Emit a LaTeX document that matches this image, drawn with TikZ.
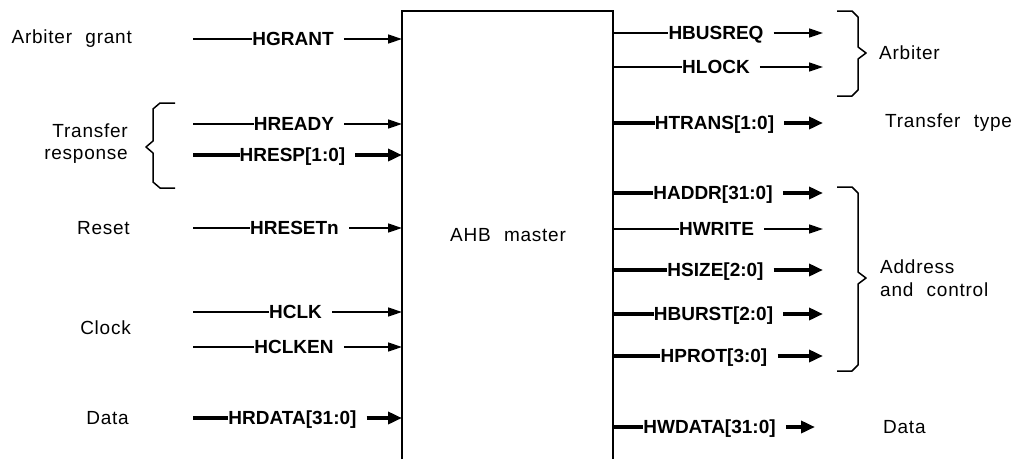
\documentclass[tikz,border=0pt]{standalone}
\usepackage{fontspec}
\setmainfont{Liberation Sans}
\newfontfamily\labfont[LetterSpace=4,WordSpace=2.2]{Liberation Sans}
\newfontfamily\sigfont{Liberation Sans Bold}
\usetikzlibrary{arrows.meta}
\begin{document}
\begin{tikzpicture}[x=1pt,y=-1pt,
  wire/.style={line width=1.5pt},
  bus/.style={line width=3.5pt},
  arrwire/.style={-{Triangle[length=14pt,width=9pt]}},
  arrbus/.style={-{Triangle[length=14pt,width=12pt]}},
  sig/.style={inner sep=0pt, font=\sigfont\fontsize{19}{19}\selectfont, text height=13.6pt, text depth=0pt},
  txt/.style={inner sep=0pt, font=\labfont\fontsize{19}{22.5}\selectfont},
  brace/.style={line width=1.5pt, line join=round},
  boxline/.style={line width=2pt}]
\useasboundingbox (0,0) rectangle (1018,459);

% master block (open at the bottom)
\coordinate (bl) at (402,459);
\coordinate (tl) at (402,11);
\coordinate (tr) at (613,11);
\coordinate (br) at (613,459);
\draw[boxline] (bl) -- (tl) -- (tr) -- (br);
\node[txt] (master) at (508,235) {AHB master};

% inputs
\foreach \y/\n/\t/\cx/\st in {
  39/hgrant/{HGRANT}/293/wire,
  124/hready/{HREADY}/294/wire,
  155/hresp/{HRESP[1:0]}/292.5/bus,
  228/hresetn/{HRESETn}/294.5/wire,
  312/hclk/{HCLK}/295.5/wire,
  347/hclken/{HCLKEN}/294/wire,
  418/hrdata/{HRDATA[31:0]}/292.5/bus}{
  \coordinate (\n-s) at (193,\y);
  \coordinate (\n-e) at (402,\y);
  \node[sig] (\n) at (\cx,\y) {\t};
  \draw[\st] (\n-s) -- (\n.west);
  \draw[\st,arr\st] ([xshift=10pt]\n.east) -- (\n-e);
}

% outputs
\foreach \y/\n/\t/\cx/\st/\tip in {
  33/hbusreq/{HBUSREQ}/716/wire/823,
  67/hlock/{HLOCK}/716/wire/823,
  123/htrans/{HTRANS[1:0]}/714.5/bus/823,
  193/haddr/{HADDR[31:0]}/713/bus/823,
  229/hwrite/{HWRITE}/716.5/wire/823,
  270/hsize/{HSIZE[2:0]}/715.5/bus/823,
  314/hburst/{HBURST[2:0]}/713.5/bus/823,
  356/hprot/{HPROT[3:0]}/714/bus/823,
  427/hwdata/{HWDATA[31:0]}/709.5/bus/815}{
  \coordinate (\n-s) at (613,\y);
  \coordinate (\n-e) at (\tip,\y);
  \node[sig] (\n) at (\cx,\y) {\t};
  \draw[\st] (\n-s) -- (\n.west);
  \draw[\st,arr\st] ([xshift=10pt]\n.east) -- (\n-e);
}

% left group labels
\node[txt,anchor=east] (arbgrant) at (132,39) {Arbiter grant};
\node[txt,anchor=east,align=right] (xferresp) at (128,143.5) {Transfer\\response};
\node[txt,anchor=east] (reset) at (130,228) {Reset};
\node[txt,anchor=east] (clock) at (131,328) {Clock};
\node[txt,anchor=east] (rdata) at (129,418) {Data};

% right group labels
\node[txt,anchor=west] (arbiter) at (879,53) {Arbiter};
\node[txt,anchor=west] (xfertype) at (885,123) {Transfer type};
\node[txt,anchor=west,align=left] (addrctl) at (880,278) {Address\\and control};
\node[txt,anchor=west] (wdata) at (883,427) {Data};

% braces
\draw[brace] (175,103) -- (160,103) -- (153,109) -- (153,141) -- (146,147)
  -- (153,153) -- (153,182) -- (160,188) -- (175,188);
\draw[brace] (837,11) -- (852,11) -- (858,17) -- (858,47) -- (866,53)
  -- (858,59) -- (858,90) -- (852,96) -- (837,96);
\draw[brace] (837,187) -- (852,187) -- (858,193) -- (858,272) -- (866,278)
  -- (858,284) -- (858,365) -- (852,371) -- (837,371);
\end{tikzpicture}
\end{document}
